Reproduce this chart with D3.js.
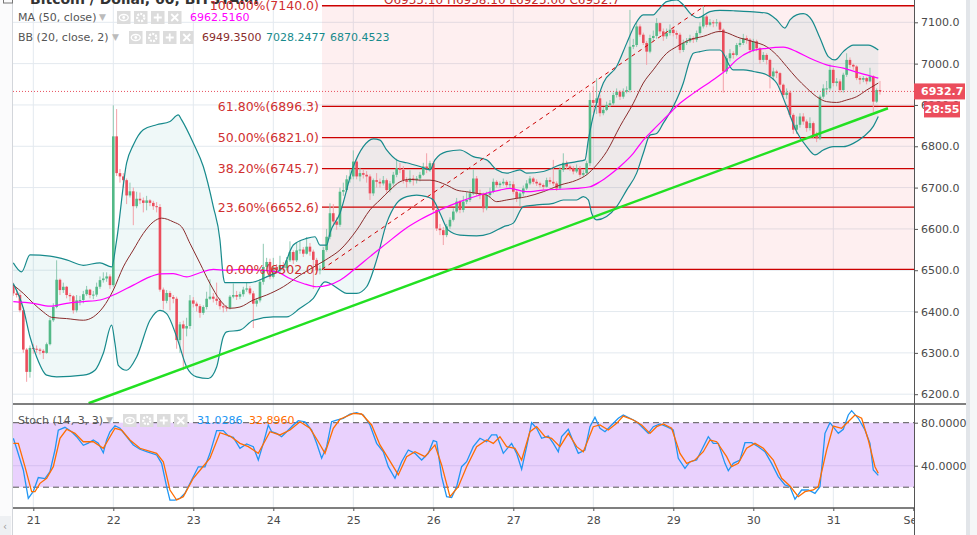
<!DOCTYPE html>
<html><head><meta charset="utf-8">
<script src="https://cdn.jsdelivr.net/npm/d3@7"></script>
<style>
html,body{margin:0;padding:0;background:#fff;}
svg{display:block;font-family:"DejaVu Sans",Verdana,sans-serif;}
</style></head><body>
<svg id="chart" width="977" height="535"></svg>
<script>
// ---------- DATA (hourly BTC/USD, index 0 = 2018-08-20 18:00 UTC) ----------
const firstOpen = 6464;
const closes = [
 // Aug 20 18h-23h
 6444,6440,6403,6308,6254,6312,
 // Aug 21
 6310,6308,6305,6300,6321,6379,6411,6477,6452,6460,6440,6437,6403,6427,6428,6442,6453,6440,6441,6460,6476,6480,6485,6464,
 // Aug 22
 6824,6735,6727,6718,6681,6691,6655,6673,6669,6663,6669,6663,6655,6653,6453,6426,6445,6435,6431,6331,6369,6359,6365,6427,
 // Aug 23
 6419,6413,6397,6411,6431,6436,6431,6426,6413,6410,6409,6436,6440,6436,6442,6453,6456,6444,6419,6427,6472,6508,6520,6484,
 // Aug 24
 6508,6500,6512,6505,6524,6544,6524,6548,6550,6540,6557,6545,6525,6500,6504,6549,6581,6638,6618,6610,6690,6694,6720,6727,
 // Aug 25
 6763,6727,6735,6731,6727,6686,6718,6714,6710,6718,6694,6710,6731,6747,6743,6718,6714,6722,6718,6722,6731,6751,6743,6759,
 // Aug 26
 6646,6601,6597,6585,6606,6622,6642,6666,6646,6666,6670,6686,6722,6686,6682,6650,6682,6690,6714,6706,6710,6714,6706,6708,
 // Aug 27
 6690,6674,6686,6698,6710,6722,6714,6710,6706,6702,6718,6714,6710,6698,6743,6760,6751,6747,6739,6747,6731,6735,6759,6912,
 // Aug 28
 6905,6916,6880,6888,6900,6904,6924,6932,6920,6932,6936,7041,7045,7090,7070,7050,7029,7062,7067,7098,7078,7066,7074,7082,
 // Aug 29
 7074,7070,7033,7050,7054,7062,7058,7074,7090,7114,7094,7100,7098,7100,7082,6981,7013,7025,7021,7045,7050,7062,7058,7033,
 // Aug 30
 7054,7037,7009,7021,7009,6969,6981,6977,6949,6924,6930,6876,6840,6852,6872,6860,6844,6856,6827,6819,6920,6940,6940,6985,
 // Aug 31 00h-14h
 6953,6957,6936,6973,7009,6997,6993,6965,6961,6965,6957,6969,6908,6936,6932.7
];
const highs = [
 6470,6452,6446,6410,6312,6318,
 6322,6318,6312,6309,6325,6385,6420,6524,6480,6470,6462,6445,6440,6440,6438,6450,6462,6455,6450,6470,6485,6495,6495,6490,
 6899,6890,6745,6735,6722,6712,6700,6690,6688,6676,6680,6672,6668,6665,6660,6458,6452,6450,6440,6436,6375,6378,6385,6440,
 6435,6424,6418,6415,6448,6478,6445,6470,6432,6420,6415,6440,6468,6450,6448,6460,6470,6462,6450,6432,6478,6564,6530,6528,
 6530,6515,6535,6520,6532,6570,6548,6568,6572,6556,6580,6566,6550,6530,6512,6556,6600,6662,6660,6628,6700,6712,6730,6745,
 6790,6770,6748,6745,6740,6732,6722,6735,6722,6728,6722,6716,6738,6770,6760,6752,6725,6742,6730,6728,6738,6760,6783,6765,
 6764,6650,6612,6605,6612,6628,6650,6675,6670,6680,6690,6695,6745,6728,6695,6688,6690,6700,6722,6718,6715,6722,6718,6716,
 6715,6695,6690,6705,6718,6728,6726,6720,6714,6710,6724,6725,6767,6715,6750,6783,6765,6755,6752,6756,6752,6742,6765,6930,
 6945,6965,6925,6895,6908,6912,6930,6940,6936,6940,6945,7130,7060,7100,7095,7075,7055,7070,7080,7110,7100,7085,7085,7095,
 7090,7080,7075,7058,7062,7070,7066,7080,7100,7140,7118,7108,7105,7108,7104,7085,7020,7035,7030,7050,7060,7072,7068,7062,
 7060,7058,7040,7028,7025,7012,6990,6985,6980,6952,6940,6935,6880,6872,6880,6880,6865,6870,6860,6835,6925,6950,6958,6998,
 6990,6965,6962,6978,7025,7015,7000,6996,6970,6970,6968,6990,6972,6940,6958.1
];
const lows = [
 6438,6434,6398,6300,6230,6240,
 6298,6300,6296,6285,6298,6318,6375,6408,6440,6445,6432,6425,6395,6398,6415,6420,6438,6432,6430,6436,6455,6470,6472,6455,
 6460,6728,6712,6700,6660,6676,6609,6650,6660,6640,6645,6655,6646,6640,6448,6405,6420,6403,6420,6310,6300,6258,6340,6358,
 6410,6400,6385,6392,6405,6428,6422,6416,6405,6398,6400,6405,6432,6428,6430,6436,6448,6440,6360,6412,6422,6465,6500,6478,
 6480,6492,6495,6498,6500,6520,6515,6520,6540,6532,6538,6535,6455,6490,6490,6500,6545,6575,6608,6598,6605,6680,6690,6712,
 6720,6720,6715,6722,6712,6670,6680,6700,6700,6705,6688,6688,6705,6725,6735,6710,6700,6710,6705,6710,6715,6728,6735,6738,
 6640,6595,6585,6561,6580,6600,6618,6638,6638,6640,6660,6665,6682,6680,6672,6640,6645,6675,6686,6700,6700,6705,6700,6698,
 6684,6665,6654,6680,6694,6706,6708,6704,6700,6695,6700,6708,6704,6692,6695,6738,6745,6740,6732,6735,6725,6726,6730,6752,
 6880,6878,6872,6875,6885,6895,6900,6918,6912,6915,6928,6930,7035,7040,7065,7045,6997,7025,7055,7060,7072,7055,7060,7068,
 7066,7060,7025,7028,7045,7050,7050,7052,7070,7085,7088,7090,7088,7090,7075,6930,6975,7005,7012,7018,7040,7045,7048,7025,
 7028,7030,7000,7004,6998,6940,6960,6965,6935,6918,6915,6870,6830,6830,6845,6852,6835,6838,6820,6810,6815,6915,6925,6935,
 6945,6945,6930,6930,6968,6990,6985,6960,6950,6955,6950,6955,6883,6905,6925
];
// indicator lines, [hour index, value]
const bbUpper = [[0,6518],[2.5,6496],[5,6537],[11,6534],[16,6525],[21,6512],[26,6518],[29.5,6508],[31,6573],[34,6760],[36,6803],[39,6840],[43,6852],[47,6860],[49.5,6876],[50.5,6864],[54,6808],[57,6751],[60,6654],[62,6573],[63,6484],[63.5,6470],[71,6470],[76,6484],[81,6508],[84,6561],[88,6577],[90.5,6581],[92,6561],[94,6561],[95,6590],[98,6638],[102,6751],[105,6799],[108,6818],[110,6815],[112,6791],[115,6767],[118,6760],[122,6751],[125,6743],[126.5,6767],[130,6787],[134,6791],[138,6775],[142,6767],[145,6743],[148,6735],[152,6743],[154,6735],[159,6739],[164,6755],[169,6763],[171.5,6767],[172.5,6815],[177,6953],[181,6993],[184,7049],[186.5,7094],[189,7118],[192,7118],[193.5,7130],[196,7150],[199,7154],[201,7142],[203.5,7118],[205.5,7111],[209,7126],[212,7129],[216,7128],[221,7126],[226,7122],[229,7106],[231.5,7086],[233,7106],[235,7118],[237,7121],[239.5,7106],[242,7062],[244.5,7017],[246.5,7009],[249,7029],[252,7045],[256.5,7045],[259.5,7033]];
const bbLower = [[0,6468],[3,6408],[5,6339],[7,6290],[10,6246],[13,6242],[21,6246],[24.5,6258],[27,6299],[29.5,6367],[30.5,6323],[31.5,6270],[34,6258],[37,6290],[41,6379],[44,6403],[46,6395],[49,6339],[52,6266],[55,6242],[58.5,6238],[61,6266],[63,6339],[64,6351],[68,6355],[72,6379],[78,6387],[82,6387],[86,6408],[90,6432],[93.5,6472],[95,6468],[98,6452],[100,6444],[103,6444],[106,6460],[109,6525],[112,6614],[115,6662],[118,6678],[121,6682],[124,6678],[126,6670],[128,6638],[130.5,6597],[134,6585],[139,6583],[143,6589],[147,6605],[150,6614],[153,6654],[157,6658],[162,6662],[165,6670],[169,6670],[171,6678],[172.5,6670],[173.5,6638],[175,6622],[178,6630],[181,6654],[184,6694],[187,6735],[189,6783],[191,6827],[193,6831],[195,6856],[198,6896],[201,6953],[203,7009],[204,7025],[206,7029],[209,7033],[212,7033],[216,6985],[219,6985],[222,6981],[226,6973],[229,6953],[232,6896],[235,6835],[238,6799],[240.5,6779],[243,6791],[246,6799],[249,6799],[252,6807],[255,6823],[258,6848],[259.5,6872]];
const bbBasis = [[0,6464],[3,6444],[6,6420],[9,6399],[11.5,6386],[16,6383],[21,6379],[24,6387],[27,6411],[30,6452],[33,6508],[36,6549],[39,6589],[42,6617],[44.5,6626],[48,6617],[50.5,6605],[53,6565],[56,6517],[59,6468],[62,6428],[65,6408],[68,6411],[72,6428],[76,6440],[81,6460],[86,6488],[91,6512],[94.5,6529],[98,6549],[103,6597],[107,6646],[110,6670],[113,6694],[116,6714],[119,6720],[122,6718],[125,6718],[130,6706],[133,6694],[136,6690],[139,6686],[142,6682],[145,6666],[148,6670],[151,6674],[154,6678],[159,6690],[164,6706],[169,6718],[172,6731],[175,6755],[178,6787],[182,6848],[186,6904],[189,6953],[192,6985],[196,7025],[199,7041],[203,7058],[207,7066],[212,7078],[218,7062],[222,7053],[226,7041],[229,7021],[232,6993],[235,6965],[238,6941],[241,6920],[244,6908],[247,6906],[250,6912],[253,6920],[256,6936],[259.5,6953]];
const ma50 = [[0,6424],[6,6420],[11,6413],[16,6420],[21,6424],[26,6428],[30,6440],[36,6464],[41,6484],[44,6491],[48,6492],[52,6484],[56,6494],[60,6502],[64,6500],[68,6502],[74,6500],[79,6496],[83,6480],[87,6468],[91,6460],[94.5,6464],[98,6476],[102,6500],[107,6533],[112,6565],[117,6597],[122,6622],[128,6646],[134,6666],[140,6682],[146,6694],[149,6698],[154,6690],[159,6694],[164,6696],[169,6698],[173,6702],[176,6714],[179,6731],[182,6751],[186,6783],[189,6815],[192,6840],[196,6872],[200,6904],[204,6928],[210,6961],[214,6985],[217,7009],[221,7029],[226,7037],[231,7040],[235,7029],[239,7013],[244,6997],[249,6989],[254,6977],[259.5,6965]];
const stochK = [[0,65.5],[1,56],[3,36],[4.5,9.7],[6,16],[7.5,29],[9.5,28],[11,34.5],[12.5,54.6],[13.5,73],[15.5,75.7],[17.5,71.6],[19,67],[21,59],[22.5,61],[24,64],[25.5,61],[27,52],[28,64],[29,71.6],[30.5,77.2],[32,74.8],[34,67],[36,59.3],[38,55.3],[40,53],[43,50],[44.5,42.2],[46,20.5],[47,8],[48.5,8],[50,9.7],[51.5,14.3],[53.5,26.7],[55.5,39],[57.5,39],[59,51.5],[61,72.6],[63,72.6],[64.5,67.6],[66,66.4],[68,56.2],[70,60.2],[72,57.7],[73.5,45.3],[75,60.8],[76.5,77.9],[77.5,71.6],[79,70.1],[80.5,67],[82,71.6],[84,77.9],[85.5,81.9],[87.5,80.9],[89.5,73.2],[91,60.8],[92.5,46.9],[94,57.7],[95.5,80.9],[97,82.5],[99,84.1],[101,88.1],[103,89.3],[105,87.2],[107,77.9],[109,60.8],[111,53],[112.5,39.1],[114.5,28.3],[116.5,43.7],[118.5,54.6],[120.5,51.5],[122.5,45.3],[124.5,51.5],[126,63.3],[127,62.3],[128.5,29.8],[130,11.2],[131.5,10.3],[133,20.5],[134.5,39.1],[136,43.7],[138,57.7],[140,65.5],[142,62.3],[143.5,68.6],[145,68.6],[147,51.5],[149.5,60.8],[151,51.5],[152.5,36.7],[154,57.7],[155.5,80],[157,74.8],[158.5,65.5],[160.5,67.6],[162,60.8],[163.5,53],[164.5,67],[166.5,73.9],[168,62.3],[169.5,51.5],[171.5,54.6],[173,76.3],[174.5,85],[176,74.8],[177.5,71.6],[179.5,77.9],[181.5,84.1],[183,87.2],[185,84.1],[187,80.9],[189,74.8],[190.5,70.1],[192,76.3],[194,78.8],[196,76.3],[198,73.2],[199.5,46.9],[201.5,37.6],[203,43.7],[205,45.3],[207,57.7],[208.5,67],[210,60.8],[211.5,60.8],[213.5,42.2],[214.5,35.4],[216,42.2],[218,45.3],[219.5,61.4],[221.5,61.4],[223.5,57.7],[225.5,53],[227.5,42.2],[229.5,29.8],[231.5,22.1],[233,20.5],[234.5,8.8],[236.5,17.4],[238.5,17.4],[240.5,14.3],[242,20.5],[243.5,70.1],[245,80],[247.5,70.1],[249,73.9],[250.5,87.2],[251.5,91.2],[253.5,84.1],[255.5,73.2],[257,60.8],[258,36],[259.5,31.0]];
const stochD = [[0,60.8],[1.5,60.8],[3.5,39.1],[5.5,15.8],[6.5,15.8],[8,23.6],[10,28.3],[12,39.1],[14,65.5],[16,73.9],[18.5,70.1],[21,62.3],[24,62.3],[27,56.2],[30.5,74.8],[32.5,73.2],[35,63.9],[38,56.2],[43,51.5],[45,43.7],[47,17.4],[49,8.1],[51,11.2],[54,28.3],[56.5,37.6],[59,46.9],[62,70.7],[65,67.6],[68,60.8],[70.5,57.7],[73.5,51.5],[77,71.6],[80,68.6],[83,73.2],[86,80.9],[89,74.8],[91.5,62.3],[93.5,51.5],[96,74.8],[98,83.2],[102,88.7],[104.5,88.1],[107.5,77.9],[110,59.3],[112.5,46.9],[115.5,31.4],[118,48.4],[120.5,53],[123.5,48.4],[126.5,59.3],[128.5,40.7],[131,11.2],[133.5,20.5],[136,39.1],[139,57.7],[142,63.9],[144,60.8],[146,67],[148,57.7],[150.5,56.2],[152.5,45.3],[155,71.6],[157,76.3],[159.5,67],[161.5,65.5],[164,57.7],[166.5,70.1],[169,57.7],[171,53],[174,76.3],[176,77.9],[178.5,73.2],[181,79.4],[183,86.2],[186,82.5],[188.5,77.9],[191,70.1],[193,76.3],[195,78.8],[197.5,74.8],[200,51.5],[202,42.2],[204.5,45.3],[207,53],[209,63.9],[211,62.3],[214,48.4],[215.5,39.1],[217.5,42.2],[220,56.2],[222.5,60.8],[225,56.2],[228,45.3],[230.5,28.3],[233,21.1],[235.5,11.2],[237.5,15.8],[240,17.4],[241.5,20.5],[244,54.6],[246,76.9],[248.5,74.8],[251,82.5],[252.5,87.2],[254.5,84.1],[256.5,63.9],[258.5,39.1],[259.5,32.9]];
// drawings
const fibRatios = [1, 0.618, 0.5, 0.382, 0.236, 0];
const fibPrices = [7140.0, 6896.3, 6821.0, 6745.7, 6652.6, 6502.0];
const fibStart = [92.6, 6502.0];
const fibEnd = [207.5, 7140.0];
const trendLine = [[22.6, 6178], [262.4, 6892]];
const lastPrice = 6932.7;
const countdown = "28:55";
const priceTicks = [6200,6300,6400,6500,6600,6700,6800,6900,7000,7100];
const stochTicks = [40, 80];
const stochBands = [20, 80];
const legendMA = {name:"MA (50, close)", values:["6962.5160"]};
const legendBB = {name:"BB (20, close, 2)", values:["6949.3500","7028.2477","6870.4523"]};
const legendStoch = {name:"Stoch (14, 3, 3)", values:["31.0286","32.8960"]};
const titleText = "Bitcoin / Dollar, 60, BITSTAMP";
const ohlcText = "O6935.10  H6958.10  L6925.00  C6932.7";

// ---------- LAYOUT ----------
const svg = d3.select("#chart");
const L = 13, R = 914, mainB = 404, stB = 508;
const t0 = Date.UTC(2018,7,20,18);
const hd = h => new Date(t0 + h*3600e3);
const x = d3.scaleUtc().domain([hd(0), new Date(Date.UTC(2018,8,1,0))]).range([13.3, 913.3]);
const xh = h => x(hd(h));
const y = d3.scaleLinear().domain([6200, 7100]).range([394.2, 22.3]);
const ys = d3.scaleLinear().domain([0, 100]).range([508.7, 401.2]);

const C = {grid:"#e3e9ef", up:"#53b987", down:"#eb4d5c", upWick:"#8fc9b3", downWick:"#f3a0a8",
  band:"#178a8c", basis:"#8a2c2c", ma:"#ff00ff", fib:"#cc0000", fibText:"#d03030", trend:"#22e022",
  axis:"#555", text:"#4a4a4a", K:"#2196f3", D:"#ff6d00"};

const defs = svg.append("defs");
defs.append("clipPath").attr("id","mainClip").append("rect").attr("x",L).attr("y",0).attr("width",R-L).attr("height",mainB);
defs.append("clipPath").attr("id","stClip").append("rect").attr("x",L).attr("y",mainB).attr("width",R-L).attr("height",stB-mainB);
defs.append("clipPath").attr("id","xClip").append("rect").attr("x",0).attr("y",stB).attr("width",R).attr("height",535-stB);

// side strips
svg.append("rect").attr("x",0).attr("y",0).attr("width",12).attr("height",535).attr("fill","#fbfbfc");
svg.append("line").attr("x1",12.5).attr("x2",12.5).attr("y1",0).attr("y2",535).attr("stroke","#d3d6db");
svg.append("rect").attr("x",966).attr("y",0).attr("width",4).attr("height",535).attr("fill","#e2e5e9");
svg.append("rect").attr("x",970).attr("y",0).attr("width",7).attr("height",535).attr("fill","#f5f6f7");
svg.append("rect").attr("x",0).attr("y",516).attr("width",11).attr("height",19).attr("fill","#eef0f3");
svg.append("text").attr("x",3).attr("y",530).attr("font-size",10).attr("fill","#999").text("‹");

const days = d3.utcDay.range(new Date(Date.UTC(2018,7,21)), new Date(Date.UTC(2018,8,1)));

// ---------- MAIN PANE ----------
const main = svg.append("g").attr("clip-path","url(#mainClip)");
main.selectAll("line.vg").data(days).join("line").attr("x1",d=>x(d)).attr("x2",d=>x(d))
  .attr("y1",0).attr("y2",mainB).attr("stroke",C.grid);
main.selectAll("line.hg").data(priceTicks).join("line").attr("x1",L).attr("x2",R)
  .attr("y1",d=>y(d)).attr("y2",d=>y(d)).attr("stroke",C.grid);

// fib zone
main.append("rect").attr("x",xh(fibStart[0])).attr("y",y(fibPrices[0]))
  .attr("width",R-xh(fibStart[0])).attr("height",y(fibPrices[5])-y(fibPrices[0]))
  .attr("fill","rgba(242,54,69,0.08)");

// BB fill
const ln = d3.line().x(d=>xh(d[0])).y(d=>y(d[1])).curve(d3.curveMonotoneX);
const upPath = ln(bbUpper);
const loPath = ln(bbLower.slice().reverse());
main.append("path").attr("d", upPath + loPath.replace(/^M/,"L") + "Z").attr("fill","rgba(33,150,150,0.07)");

// fib lines
fibPrices.forEach((p,k)=>{
  main.append("line").attr("x1",xh(fibStart[0])).attr("x2",R).attr("y1",y(p)).attr("y2",y(p))
    .attr("stroke",C.fib).attr("stroke-width",1.3);
});
// title (cut at top)
svg.append("text").attr("x",30).attr("y",3.5).attr("font-size",14).attr("font-weight","bold").attr("fill","#333").text(titleText);
svg.append("text").attr("x",384).attr("y",3.5).attr("font-size",12).attr("fill","#c62828").text(ohlcText);
svg.append("rect").attr("x",3.5).attr("y",-6).attr("width",9).attr("height",9).attr("fill","none").attr("stroke","#777");

const fibLbl = svg.append("g").attr("clip-path","url(#mainClip)");
fibPrices.forEach((p,k)=>{
  fibLbl.append("text").attr("x",xh(fibStart[0])-3).attr("y",y(p)+4.5).attr("text-anchor","end")
    .attr("font-size",12.5).attr("fill",C.fibText)
    .text((fibRatios[k]*100).toFixed(2)+"%("+p.toFixed(1)+")");
});

// candles
const candles = closes.map((c,i)=>({i, o: i===0?firstOpen:closes[i-1], c, h: highs[i], l: lows[i]}));
const cg = main.append("g");
cg.selectAll("line.w").data(candles).join("line")
  .attr("x1",d=>xh(d.i)).attr("x2",d=>xh(d.i)).attr("y1",d=>y(d.h)).attr("y2",d=>y(d.l))
  .attr("stroke",d=>d.c>=d.o?C.upWick:C.downWick).attr("stroke-width",1);
cg.selectAll("rect.b").data(candles).join("rect")
  .attr("x",d=>xh(d.i)-1.3).attr("width",2.6)
  .attr("y",d=>y(Math.max(d.o,d.c))).attr("height",d=>Math.max(1,Math.abs(y(d.o)-y(d.c))))
  .attr("fill",d=>d.c>=d.o?C.up:C.down);

// indicator lines
main.append("path").attr("d",ln(bbBasis)).attr("fill","none").attr("stroke",C.basis).attr("stroke-width",1);
main.append("path").attr("d",ln(bbUpper)).attr("fill","none").attr("stroke",C.band).attr("stroke-width",1.2);
main.append("path").attr("d",ln(bbLower)).attr("fill","none").attr("stroke",C.band).attr("stroke-width",1.2);
main.append("path").attr("d",ln(ma50)).attr("fill","none").attr("stroke",C.ma).attr("stroke-width",1.2);

// fib diagonal, trend line, price line
const straight = d3.line().x(d=>xh(d[0])).y(d=>y(d[1]));
main.append("path").attr("d",straight([fibStart,fibEnd])).attr("stroke",C.fib).attr("stroke-width",1)
  .attr("stroke-dasharray","4,4").attr("fill","none");
main.append("path").attr("d",straight(trendLine)).attr("stroke",C.trend).attr("stroke-width",2.5).attr("fill","none");
main.append("line").attr("x1",L).attr("x2",R).attr("y1",y(lastPrice)).attr("y2",y(lastPrice))
  .attr("stroke","#e8505f").attr("stroke-dasharray","1,2");

// ---------- STOCH PANE ----------
const st = svg.append("g").attr("clip-path","url(#stClip)");
st.selectAll("line.vg").data(days).join("line").attr("x1",d=>x(d)).attr("x2",d=>x(d))
  .attr("y1",mainB).attr("y2",stB).attr("stroke",C.grid);
st.append("rect").attr("x",L).attr("width",R-L).attr("y",ys(stochBands[1])).attr("height",ys(stochBands[0])-ys(stochBands[1]))
  .attr("fill","#e9d1fd");
st.append("line").attr("x1",L).attr("x2",R).attr("y1",ys(40)).attr("y2",ys(40)).attr("stroke","#d6bff0");
stochBands.forEach(v=>st.append("line").attr("x1",L).attr("x2",R).attr("y1",ys(v)).attr("y2",ys(v))
  .attr("stroke","#555").attr("stroke-dasharray","6,4"));
const sl = d3.line().x(d=>xh(d[0])).y(d=>ys(d[1]));
st.append("path").attr("d",sl(stochK)).attr("fill","none").attr("stroke",C.K).attr("stroke-width",1.3);
st.append("path").attr("d",sl(stochD)).attr("fill","none").attr("stroke",C.D).attr("stroke-width",1.3);

// pane borders
svg.append("line").attr("x1",L).attr("x2",966).attr("y1",mainB).attr("y2",mainB).attr("stroke","#555").attr("stroke-width",1.3);
svg.append("line").attr("x1",L).attr("x2",R).attr("y1",stB).attr("y2",stB).attr("stroke","#555").attr("stroke-width",1.3);

// ---------- AXES ----------
const yAxis = svg.append("g").attr("transform",`translate(${R},0)`)
  .call(d3.axisRight(y).tickValues(priceTicks).tickFormat(d3.format(".1f")).tickSize(4).tickPadding(3));
const sAxis = svg.append("g").attr("transform",`translate(${R},0)`)
  .call(d3.axisRight(ys).tickValues(stochTicks).tickFormat(d3.format(".4f")).tickSize(4).tickPadding(3));
[yAxis,sAxis].forEach(g=>{
  g.select(".domain").remove();
  g.selectAll("line").attr("stroke",C.axis);
  g.selectAll("text").attr("font-size",11).attr("fill",C.text).attr("font-family","DejaVu Sans, sans-serif");
});
svg.append("line").attr("x1",R+0.5).attr("x2",R+0.5).attr("y1",0).attr("y2",535).attr("stroke",C.axis);

const xWrap = svg.append("g").attr("clip-path","url(#xClip)");
const xAxis = xWrap.append("g").attr("transform",`translate(0,${stB})`)
  .call(d3.axisBottom(x).tickValues(d3.utcDay.range(new Date(Date.UTC(2018,7,21)), new Date(Date.UTC(2018,8,2))))
  .tickFormat(d=>d.getUTCDate()===1 ? "Sep" : String(d.getUTCDate())).tickSize(3).tickPadding(5));
xAxis.select(".domain").remove();
xAxis.selectAll("line").attr("stroke",C.axis);
xAxis.selectAll("text").attr("font-size",11).attr("fill",C.text).attr("font-family","DejaVu Sans, sans-serif");

// price label boxes
const py = y(lastPrice);
svg.append("rect").attr("x",R).attr("y",py-8).attr("width",51).attr("height",16).attr("fill","#eb4d5c");
svg.append("text").attr("x",921).attr("y",py+4).attr("font-size",11).attr("font-weight","bold").attr("fill","#fff").text(lastPrice.toFixed(1));
svg.append("rect").attr("x",924).attr("y",py+10).attr("width",36).attr("height",16).attr("fill","#eb4d5c");
svg.append("text").attr("x",942).attr("y",py+22).attr("text-anchor","middle").attr("font-size",11).attr("font-weight","bold").attr("fill","#fff").text(countdown);

// ---------- LEGENDS ----------
function icons(x0, yTop){
  const g = svg.append("g");
  [0,1,2,3].forEach(k=>{
    const xx = x0 + k*17;
    g.append("rect").attr("x",xx).attr("y",yTop).attr("width",13.5).attr("height",13).attr("fill","#dcdcdc");
    const cx = xx+6.75, cy = yTop+6.5;
    if(k===0){ g.append("ellipse").attr("cx",cx).attr("cy",cy).attr("rx",4.5).attr("ry",3).attr("fill","none").attr("stroke","#fff").attr("stroke-width",1.3);
      g.append("circle").attr("cx",cx).attr("cy",cy).attr("r",1.4).attr("fill","#fff"); }
    if(k===1){ g.append("circle").attr("cx",cx).attr("cy",cy).attr("r",3.6).attr("fill","none").attr("stroke","#fff").attr("stroke-width",2.2).attr("stroke-dasharray","2,1.2"); }
    if(k===2){ g.append("path").attr("d",`M${cx-4},${cy}H${cx+4}M${cx},${cy-4}V${cy+4}`).attr("stroke","#fff").attr("stroke-width",1.8); }
    if(k===3){ g.append("path").attr("d",`M${cx-3.5},${cy-3.5}L${cx+3.5},${cy+3.5}M${cx+3.5},${cy-3.5}L${cx-3.5},${cy+3.5}`).attr("stroke","#fff").attr("stroke-width",1.8); }
  });
}
function legend(item, yBase, caretX, iconX, valXs, colors){
  svg.append("text").attr("x",18).attr("y",yBase).attr("font-size",11).attr("fill","#555").text(item.name);
  svg.append("text").attr("x",caretX).attr("y",yBase-1).attr("font-size",9).attr("fill","#bbb").text("▼");
  icons(iconX, yBase-9.5);
  item.values.forEach((v,k)=>svg.append("text").attr("x",valXs[k]).attr("y",yBase).attr("font-size",11).attr("fill",colors[k]).text(v));
}
legend(legendMA, 20.5, 99, 117, [190], [C.ma]);
legend(legendBB, 40.5, 112, 129, [202,266,330], [C.basis, C.band, C.band]);
legend(legendStoch, 423.5, 106, 123, [197,249], [C.K, C.D]);
</script>
</body></html>
